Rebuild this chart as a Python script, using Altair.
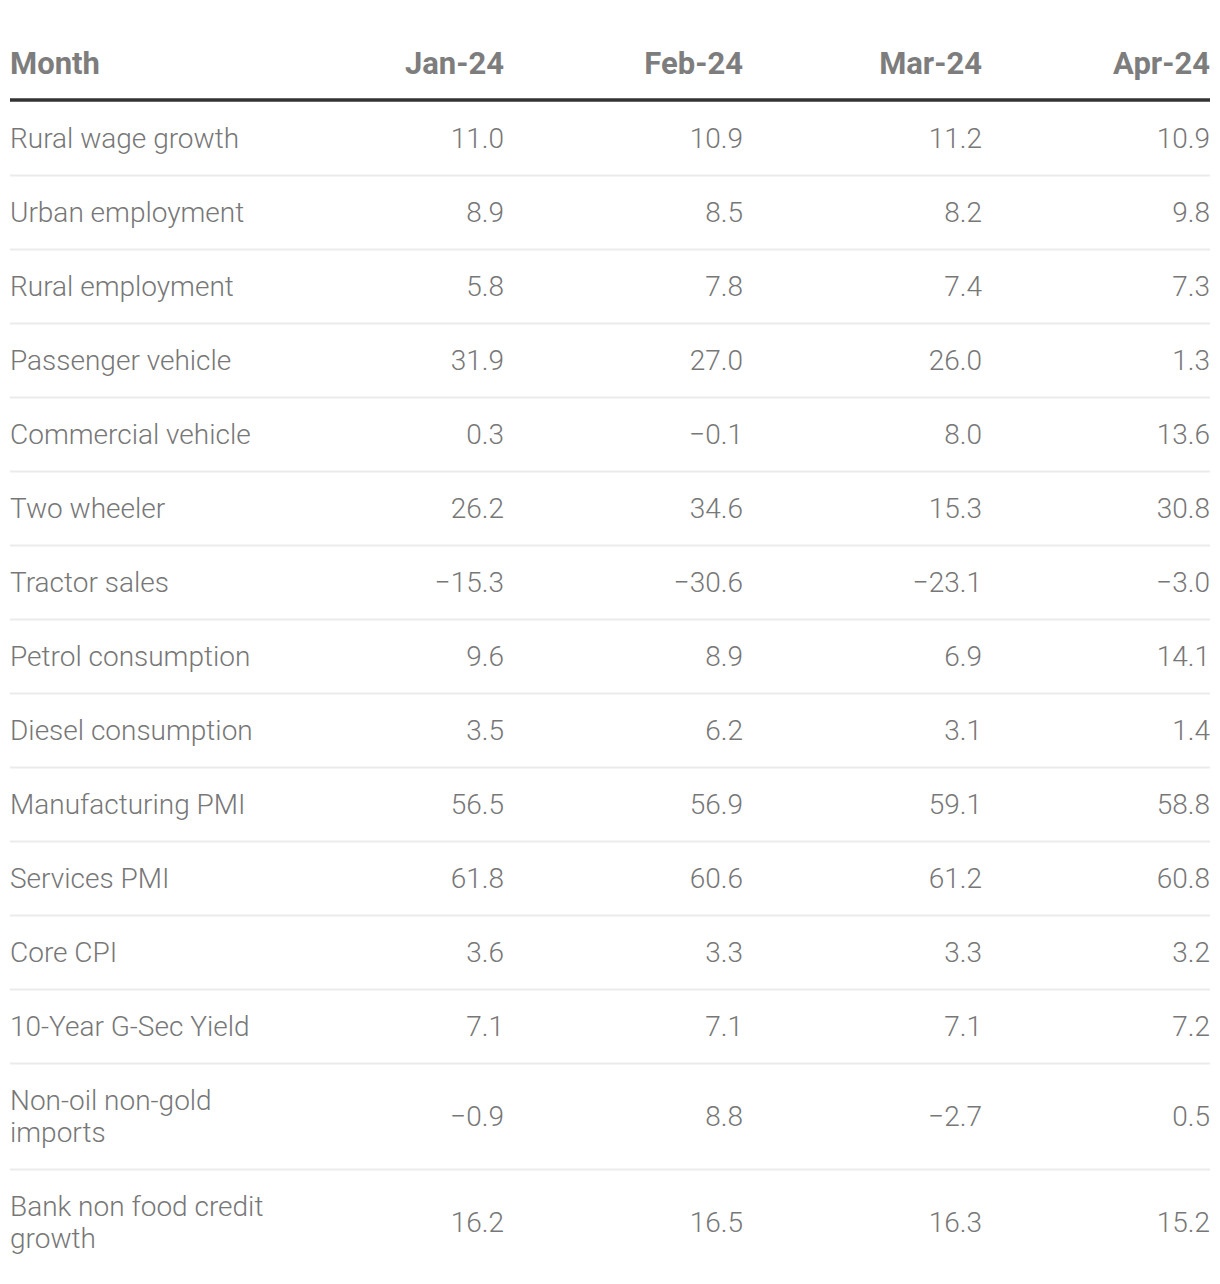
import altair as alt
import pandas as pd

columns = ["Month", "Jan-24", "Feb-24", "Mar-24", "Apr-24"]
labels = [
    "Rural wage growth",
    "Urban employment",
    "Rural employment",
    "Passenger vehicle",
    "Commercial vehicle",
    "Two wheeler",
    "Tractor sales",
    "Petrol consumption",
    "Diesel consumption",
    "Manufacturing PMI",
    "Services PMI",
    "Core CPI",
    "10-Year G-Sec Yield",
    "Non-oil non-gold\nimports",
    "Bank non food credit\ngrowth",
]
jan24 = [11.0, 8.9, 5.8, 31.9, 0.3, 26.2, -15.3, 9.6, 3.5, 56.5, 61.8, 3.6, 7.1, -0.9, 16.2]
feb24 = [10.9, 8.5, 7.8, 27.0, -0.1, 34.6, -30.6, 8.9, 6.2, 56.9, 60.6, 3.3, 7.1, 8.8, 16.5]
mar24 = [11.2, 8.2, 7.4, 26.0, 8.0, 15.3, -23.1, 6.9, 3.1, 59.1, 61.2, 3.3, 7.1, -2.7, 16.3]
apr24 = [10.9, 9.8, 7.3, 1.3, 13.6, 30.8, -3.0, 14.1, 1.4, 58.8, 60.8, 3.2, 7.2, 0.5, 15.2]

# layout (pixel units of the y scale)
HEIGHT = 1270
WIDTH = 1200
HEADER_Y = 56.5
HEADER_RULE_Y = 92
FIRST_ROW_TOP = 93.5
ROW_H = 74
LINE_H = 32

def fmt(v):
    return f"{v:.1f}".replace("-", "\u2212")

rows = []
seps = []
top = FIRST_ROW_TOP
for i, lab in enumerate(labels):
    n = lab.count("\n") + 1
    h = ROW_H + LINE_H * (n - 1)
    yc = top + h / 2
    rows.append({"label": lab, "yc": yc, "ylab": yc - (n - 1) * LINE_H / 2,
                 "Jan-24": fmt(jan24[i]), "Feb-24": fmt(feb24[i]),
                 "Mar-24": fmt(mar24[i]), "Apr-24": fmt(apr24[i])})
    top += h
    if i < len(labels) - 1:
        seps.append({"y": top})

rows_df = pd.DataFrame(rows)
values_df = rows_df.melt(id_vars=["label", "yc"], value_vars=columns[1:],
                         var_name="col", value_name="txt")
values_df["ci"] = values_df["col"].map(columns.index)
header_df = pd.DataFrame({"col": columns, "ci": list(range(len(columns))),
                          "y": [HEADER_Y] * len(columns)})
sep_df = pd.DataFrame(seps)
hrule_df = pd.DataFrame({"y": [HEADER_RULE_Y]})

# piecewise-linear column scale: column index -> anchor position
xscale = alt.Scale(type="linear", domain=[0, 1, 2, 3, 4], range=[0, 494, 733, 972, 1200])
yscale = alt.Scale(domain=[0, HEIGHT], reverse=True)

TXT = "#777777"
HDR = "#7d7d7d"
FONT = "Roboto"
LIGHT = "Roboto Light, Roboto"

base_x = alt.X("ci:Q", scale=xscale, axis=None)

header_left = alt.Chart(header_df[header_df.col == "Month"]).mark_text(
    align="left", baseline="middle", font=FONT, fontSize=31, fontWeight="bold", color=HDR
).encode(x=base_x, y=alt.Y("y:Q", scale=yscale, axis=None), text="col:N")

header_right = alt.Chart(header_df[header_df.col != "Month"]).mark_text(
    align="right", baseline="middle", font=FONT, fontSize=31, fontWeight="bold", color=HDR
).encode(x=base_x, y=alt.Y("y:Q", scale=yscale, axis=None), text="col:N")

hrule = alt.Chart(hrule_df).mark_rule(color="#333333", strokeWidth=3.5).encode(
    y=alt.Y("y:Q", scale=yscale, axis=None)
)

seprule = alt.Chart(sep_df).mark_rule(color="#ebebeb", strokeWidth=2).encode(
    y=alt.Y("y:Q", scale=yscale, axis=None)
)

label_df = rows_df[["label", "ylab"]].assign(ci=0)
label_text = alt.Chart(label_df).mark_text(
    align="left", baseline="middle", font=LIGHT, fontSize=28, fontWeight=300,
    color=TXT, lineBreak="\n", lineHeight=LINE_H, dy=1
).encode(x=base_x, y=alt.Y("ylab:Q", scale=yscale, axis=None), text="label:N")

value_text = alt.Chart(values_df).mark_text(
    align="right", baseline="middle", font=LIGHT, fontSize=28, fontWeight=300, color=TXT, dy=1
).encode(x=base_x, y=alt.Y("yc:Q", scale=yscale, axis=None), text="txt:N")

chart = alt.layer(seprule, hrule, header_left, header_right, label_text, value_text).properties(
    width=WIDTH, height=HEIGHT,
    padding={"left": 2, "top": 0, "right": 0, "bottom": 0},
    autosize=alt.AutoSizeParams(type="none"),
    background="white",
).configure_view(stroke=None)

chart.save("out.html", embed_options={"renderer": "svg", "actions": False})
